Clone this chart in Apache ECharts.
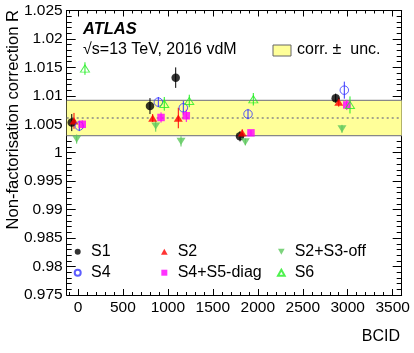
<!DOCTYPE html>
<html>
<head>
<meta charset="utf-8">
<script src="https://cdn.jsdelivr.net/npm/echarts@6/dist/echarts.min.js"></script>
<style>
  html, body { margin: 0; padding: 0; background: #fff; }
  #chart { width: 414px; height: 353px; }
</style>
</head>
<body>
<div id="chart"></div>
<script>
// values, one array per method
var s1X = [-69, 801, 1087, 1802, 2866];
var s1Y = [1.0053, 1.0082, 1.0132, 1.0029, 1.0096];
var s1E = [0.0015, 0.0014, 0.0018, 0.0009, 0.0008];

var s2X = [-44, 831, 1116, 1827, 2900];
var s2Y = [1.0056, 1.0061, 1.0061, 1.0035, 1.0089];
var s2E = [0.0014, 0.0007, 0.0018, 0.0006, 0.0008];

var s23X = [-14, 865, 1146, 1861, 2936];
var s23Y = [1.0024, 1.0047, 1.0020, 1.0019, 1.0042];
var s23E = [0.0008, 0.0010, 0.0009, 0.0006, 0.0007];

var s4X = [15, 894, 1172, 1891, 2962];
var s4Y = [1.0047, 1.0089, 1.0079, 1.0068, 1.0110];
var s4E = [0.0009, 0.0009, 0.0012, 0.0009, 0.0015];

var s45X = [48, 924, 1205, 1924, 2989];
var s45Y = [1.0050, 1.0062, 1.0065, 1.0035, 1.0084];
var s45E = [0.0007, 0.0009, 0.0011, 0.0005, 0.0009];

var s6X = [78, 960, 1238, 1950, 3025];
var s6Y = [1.0148, 1.0086, 1.0091, 1.0094, 1.0084];
var s6E = [0.0011, 0.0012, 0.0011, 0.0011, 0.0015];

var bandLow = 1.0030;
var bandHigh = 1.0092;
var bandCentral = 1.0061;

var xMajor = [0, 500, 1000, 1500, 2000, 2500, 3000, 3500];
var xMinor = [-100, 100, 200, 300, 400, 600, 700, 800, 900, 1100, 1200, 1300, 1400,
  1600, 1700, 1800, 1900, 2100, 2200, 2300, 2400, 2600, 2700, 2800, 2900,
  3100, 3200, 3300, 3400, 3600];

var font = "'Liberation Sans', Arial, sans-serif";
var upTri = 'path://M5,0 L10,9 L0,9 Z';
var downTri = 'path://M0,0 L10,0 L5,9 Z';
var square = 'path://M0,0 L10,0 L10,10 L0,10 Z';

function zip(xs, ys, es) {
  return xs.map(function (x, i) { return [x, ys[i], es[i]]; });
}

function errBars(name, xs, ys, es, color) {
  return {
    name: name + ' err',
    type: 'custom',
    xAxisIndex: 0,
    yAxisIndex: 0,
    z: 3,
    data: zip(xs, ys, es),
    encode: { x: 0, y: 1 },
    renderItem: function (params, api) {
      var x = api.value(0), y = api.value(1), e = api.value(2);
      var p1 = api.coord([x, y - e]);
      var p2 = api.coord([x, y + e]);
      return {
        type: 'line',
        shape: { x1: p1[0], y1: p1[1], x2: p2[0], y2: p2[1] },
        style: { stroke: color, lineWidth: 1 }
      };
    }
  };
}

function points(name, xs, ys, es, symbol, size, style) {
  return {
    name: name,
    type: 'scatter',
    xAxisIndex: 0,
    yAxisIndex: 0,
    z: 4,
    symbol: symbol,
    symbolSize: size,
    symbolKeepAspect: true,
    itemStyle: style,
    data: zip(xs, ys, es)
  };
}

var chart = echarts.init(document.getElementById('chart'), null, { renderer: 'canvas' });

function xAxisDef(pos, vals, len, withLine, withLabel) {
  return {
    type: 'value', position: pos, min: -125, max: 3600,
    axisLine: { show: withLine, onZero: false, lineStyle: { color: '#000', width: 1 } },
    axisTick: { show: true, inside: true, length: len, customValues: vals, lineStyle: { color: '#000' } },
    axisLabel: {
      show: withLabel, customValues: vals, color: '#000', fontSize: 15.5, fontFamily: font, margin: 5,
      formatter: function (v) { return String(v); }
    },
    splitLine: { show: false }
  };
}

function yAxisDef(pos, withLabel) {
  return {
    type: 'value', position: pos, min: 0.975, max: 1.025, interval: 0.005,
    axisLine: { show: true, onZero: false, lineStyle: { color: '#000', width: 1 } },
    axisTick: { show: true, inside: true, length: 9, lineStyle: { color: '#000' } },
    minorTick: { show: true, splitNumber: 5, length: 5, lineStyle: { color: '#000' } },
    axisLabel: { show: withLabel, color: '#000', fontSize: 15.5, fontFamily: font, margin: 4 },
    splitLine: { show: false }
  };
}

var legendBase = {
  orient: 'vertical',
  selectedMode: false,
  itemWidth: 16.6,
  itemHeight: 6,
  itemGap: 5,
  padding: 0,
  symbolKeepAspect: true,
  textStyle: { color: '#000', fontSize: 16, fontFamily: font, lineHeight: 16 }
};

var option = {
  animation: false,
  backgroundColor: '#fff',
  grid: { left: 66.7, right: 12.3, top: 10.5, bottom: 58, containLabel: false },
  xAxis: [
    xAxisDef('bottom', xMajor, 6, true, true),
    xAxisDef('bottom', xMinor, 3, false, false),
    xAxisDef('top', xMajor, 6, true, false),
    xAxisDef('top', xMinor, 3, false, false)
  ],
  yAxis: [yAxisDef('left', true), yAxisDef('right', false)],
  legend: [
    Object.assign({}, legendBase, { left: 73.7, top: 243.7, data: ['S1', 'S4'] }),
    Object.assign({}, legendBase, { left: 161, top: 243.7, data: ['S2', 'S4+S5-diag'] }),
    Object.assign({}, legendBase, { left: 277, top: 243.7, data: ['S2+S3-off', 'S6'] })
  ],
  graphic: [
    { type: 'text', x: 13, y: 10, rotation: Math.PI / 2,
      style: { text: 'Non-factorisation correction R', font: '16.6px ' + font, fill: '#000', align: 'right', verticalAlign: 'middle' } },
    { type: 'text', right: 14, top: 329,
      style: { text: 'BCID', font: '16px ' + font, fill: '#000' } },
    { type: 'text', x: 83, y: 29,
      style: { text: 'ATLAS', font: 'italic bold 16.5px ' + font, fill: '#000', verticalAlign: 'middle' } },
    { type: 'text', x: 83, y: 50,
      style: { text: '\u221As=13 TeV, 2016 vdM', font: '16px ' + font, fill: '#000', verticalAlign: 'middle' } },
    { type: 'rect', shape: { x: 273, y: 45, width: 18, height: 11 },
      style: { fill: '#ffff99', stroke: '#666', lineWidth: 1 } },
    { type: 'text', x: 297, y: 50,
      style: { text: 'corr. \u00B1  unc.', font: '16px ' + font, fill: '#000', verticalAlign: 'middle' } }
  ],
  series: [
    {
      name: 'band',
      type: 'custom',
      xAxisIndex: 0,
      yAxisIndex: 0,
      z: 1,
      silent: true,
      data: [[bandLow, bandHigh, bandCentral]],
      renderItem: function (params, api) {
        var cs = params.coordSys;
        var yLo = api.coord([0, api.value(0)])[1];
        var yHi = api.coord([0, api.value(1)])[1];
        var yC = api.coord([0, api.value(2)])[1];
        var x1 = cs.x, x2 = cs.x + cs.width;
        return {
          type: 'group',
          children: [
            { type: 'rect', shape: { x: x1, y: yHi, width: cs.width, height: yLo - yHi }, style: { fill: '#ffff99' } },
            { type: 'line', shape: { x1: x1, y1: yHi, x2: x2, y2: yHi }, style: { stroke: '#888', lineWidth: 1.2 } },
            { type: 'line', shape: { x1: x1, y1: yLo, x2: x2, y2: yLo }, style: { stroke: '#888', lineWidth: 1.2 } },
            { type: 'line', shape: { x1: x1, y1: yC, x2: x2, y2: yC }, style: { stroke: '#888', lineWidth: 1.5, lineDash: [2, 3] } }
          ]
        };
      }
    },
    errBars('S1', s1X, s1Y, s1E, '#000'),
    errBars('S2', s2X, s2Y, s2E, '#ff0000'),
    errBars('S2+S3-off', s23X, s23Y, s23E, '#5cc85c'),
    errBars('S4', s4X, s4Y, s4E, '#3535ff'),
    errBars('S4+S5-diag', s45X, s45Y, s45E, '#ff00ff'),
    errBars('S6', s6X, s6Y, s6E, '#22ee22'),
    points('S1', s1X, s1Y, s1E, 'circle', 8.5, { color: '#000' }),
    points('S2', s2X, s2Y, s2E, upTri, [9, 8], { color: '#ff0000' }),
    points('S2+S3-off', s23X, s23Y, s23E, downTri, [9, 8], { color: '#5cc85c' }),
    points('S4', s4X, s4Y, s4E, 'circle', 8.5, { color: 'rgba(0,0,0,0)', borderColor: '#3535ff', borderWidth: 1 }),
    points('S4+S5-diag', s45X, s45Y, s45E, square, 7.5, { color: '#ff00ff' }),
    points('S6', s6X, s6Y, s6E, upTri, [9, 8], { color: 'rgba(0,0,0,0)', borderColor: '#22ee22', borderWidth: 1 })
  ]
};

chart.setOption(option);
</script>
</body>
</html>
